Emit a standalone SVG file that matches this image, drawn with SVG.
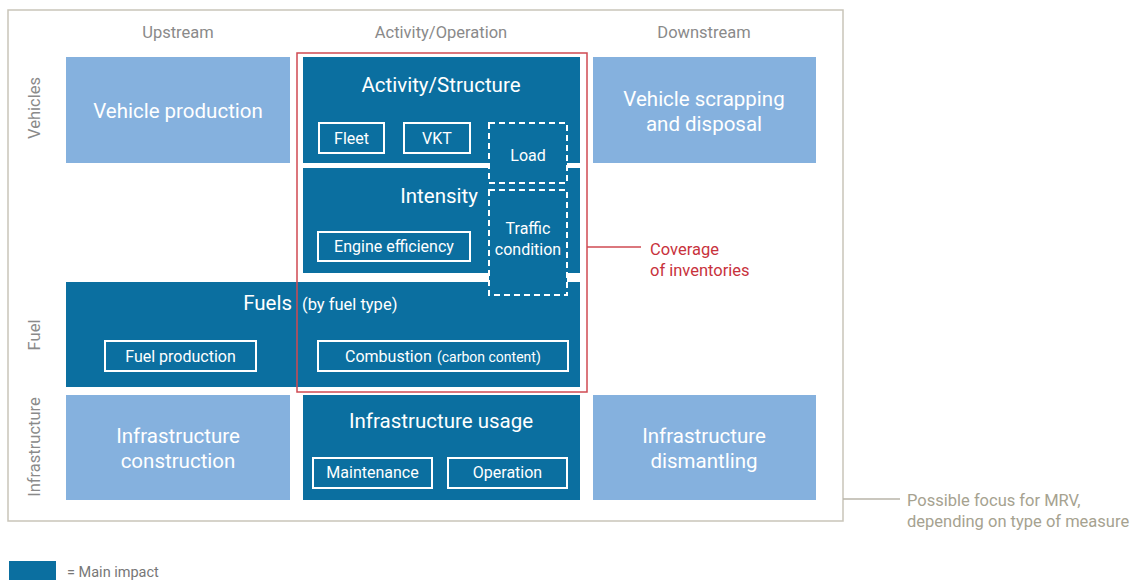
<svg xmlns="http://www.w3.org/2000/svg" width="1137" height="580" viewBox="0 0 1137 580">
<style>
text{font-family:Roboto,"Liberation Sans",sans-serif;}
.dark{fill:#0b6fa0;}
.light{fill:#85b1de;}
.hdr{font-size:16.5px;fill:#8a8a8a;text-anchor:middle;}
.big{font-size:20.5px;fill:#ffffff;text-anchor:middle;}
.sm{font-size:16px;fill:#ffffff;text-anchor:middle;}
.wbox{fill:none;stroke:#ffffff;stroke-width:2;}
.dash{fill:#0b6fa0;stroke:#ffffff;stroke-width:2;stroke-dasharray:6 4;}
.red{fill:#c8323c;font-size:16.5px;}
.note{fill:#a6a290;font-size:16.5px;}
</style>
<rect width="1137" height="580" fill="#ffffff"/>
<g id="frame">
<rect x="8" y="10" width="835" height="511" fill="none" stroke="#c9c5b9" stroke-width="1.5"/>
</g>
<g id="headers">
<text class="hdr" x="178" y="38">Upstream</text>
<text class="hdr" x="441" y="38">Activity/Operation</text>
<text class="hdr" x="704" y="38">Downstream</text>
<text class="hdr" transform="translate(40,108) rotate(-90)">Vehicles</text>
<text class="hdr" transform="translate(40,335) rotate(-90)">Fuel</text>
<text class="hdr" transform="translate(40,447) rotate(-90)">Infrastructure</text>
</g>
<g id="vehicle-production">
<rect class="light" x="66" y="57" width="224" height="106"/>
<text class="big" x="178" y="118">Vehicle production</text>
</g>
<g id="activity-structure">
<rect class="dark" x="303" y="57" width="277" height="106"/>
<text class="big" x="441" y="92">Activity/Structure</text>
<rect class="wbox" x="319" y="123" width="65" height="30"/>
<text class="sm" x="351.500" y="144">Fleet</text>
<rect class="wbox" x="404" y="123" width="66" height="30"/>
<text class="sm" x="437" y="144">VKT</text>
</g>
<g id="vehicle-scrapping">
<rect class="light" x="593" y="57" width="223" height="106"/>
<text class="big" x="704" y="106">Vehicle scrapping</text>
<text class="big" x="704" y="131">and disposal</text>
</g>
<g id="intensity">
<rect class="dark" x="303" y="168" width="277" height="105"/>
<text class="big" x="478" y="203" style="text-anchor:end">Intensity</text>
<rect class="wbox" x="318" y="232" width="152" height="29"/>
<text class="sm" x="394" y="252">Engine efficiency</text>
</g>
<g id="fuels">
<rect class="dark" x="66" y="282" width="514" height="105"/>
<text x="292" y="310" style="fill:#ffffff;font-size:20.5px;text-anchor:end">Fuels</text>
<text x="302" y="310" style="fill:#ffffff;font-size:16.5px">(by fuel type)</text>
<rect class="wbox" x="105" y="341" width="151" height="30"/>
<text class="sm" x="180.500" y="362">Fuel production</text>
<rect class="wbox" x="318" y="341" width="250" height="30"/>
<text x="345" y="362" style="fill:#ffffff;font-size:16px">Combustion</text>
<text x="437" y="362" style="fill:#ffffff;font-size:14px">(carbon content)</text>
</g>
<g id="load">
<rect class="dash" x="489" y="123" width="78" height="60"/>
<text class="sm" x="528" y="161">Load</text>
</g>
<g id="traffic-condition">
<rect class="dash" x="489" y="190" width="78" height="105"/>
<text class="sm" x="528" y="234">Traffic</text>
<text class="sm" x="528" y="255">condition</text>
</g>
<g id="infrastructure-construction">
<rect class="light" x="66" y="395" width="224" height="105"/>
<text class="big" x="178" y="443">Infrastructure</text>
<text class="big" x="178" y="468">construction</text>
</g>
<g id="infrastructure-usage">
<rect class="dark" x="303" y="395" width="277" height="105"/>
<text class="big" x="441" y="428">Infrastructure usage</text>
<rect class="wbox" x="313" y="458" width="119" height="30"/>
<text class="sm" x="372.500" y="478">Maintenance</text>
<rect class="wbox" x="448" y="458" width="119" height="30"/>
<text class="sm" x="507.500" y="478">Operation</text>
</g>
<g id="infrastructure-dismantling">
<rect class="light" x="593" y="395" width="223" height="105"/>
<text class="big" x="704" y="443">Infrastructure</text>
<text class="big" x="704" y="468">dismantling</text>
</g>
<g id="connectors">
<rect x="297" y="53" width="290" height="339" fill="none" stroke="#cf4a52" stroke-width="1.5"/>
<line x1="587" y1="247" x2="641" y2="247" stroke="#cf4a52" stroke-width="1.5"/>
<line x1="843" y1="499" x2="900" y2="499" stroke="#b9b5a8" stroke-width="1.5"/>
</g>
<g id="coverage-label">
<text class="red" x="650" y="255">Coverage</text>
<text class="red" x="650" y="276">of inventories</text>
</g>
<g id="mrv-label">
<text class="note" x="907" y="506">Possible focus for MRV,</text>
<text class="note" x="907" y="527">depending on type of measure</text>
</g>
<g id="legend">
<rect class="dark" x="9" y="561" width="47" height="19"/>
<text x="67" y="577" style="fill:#777777;font-size:14.5px">= Main impact</text>
</g>
</svg>
